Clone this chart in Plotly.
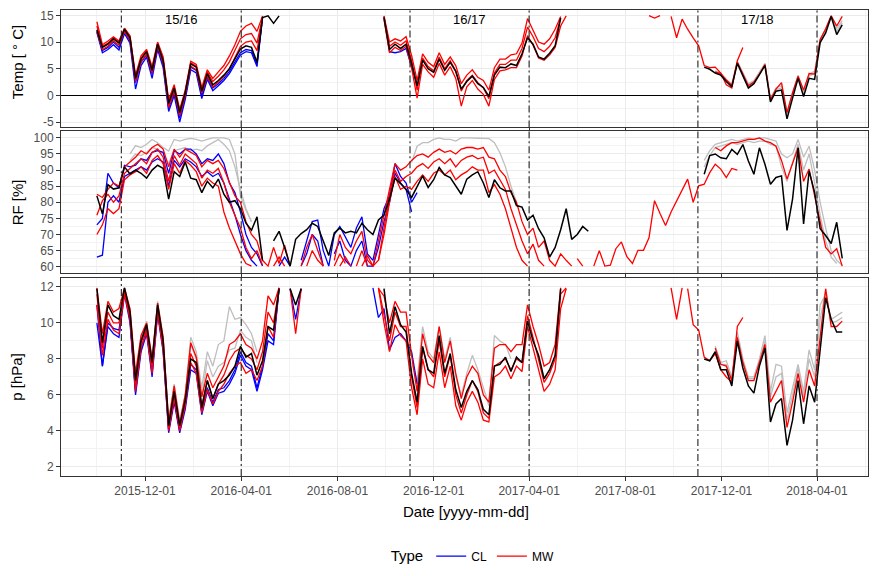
import pandas as pd
import plotly.graph_objects as go

# Weekly samples; every run is (weeks since WEEK0, [values]); None = no reading.
WEEK0 = pd.Timestamp("2015-10-01")

SEASON_BOUNDS = ["2015-11-01", "2016-04-01", "2016-11-01", "2017-04-01", "2017-11-01", "2018-04-01"]
SEASON_LABELS = ["15/16", "16/17", "17/18"]
X_TICKS = ["2015-12-01", "2016-04-01", "2016-08-01", "2016-12-01",
           "2017-04-01", "2017-08-01", "2017-12-01", "2018-04-01"]
X_MINOR = ["2015-10-01", "2016-01-31", "2016-06-01", "2016-10-01", "2017-01-30",
           "2017-06-01", "2017-10-01", "2018-01-30", "2018-06-01"]

# ---------------- Temperature [°C] ----------------
TEMP_REF = [
    (0, [12.3, 9.0, 9.6, 10.6, 9.8, 12.4, 10.8, 3.2, 6.8, 8.2,
         4.7, 9.6, 6.5, -1.5, 1.4, -3.2, 0.5, 5.9, 5.3, 0.8,
         4.1, 2.0, 2.8, 3.8, 5.0, 6.8, 8.7, 9.3, 9.0, 6.2,
         14.6, 14.9, 13.5, 14.9]),
    (52, [14.6, 8.6, 9.6, 8.8, 9.6, 6.0, 1.8, 6.6,
          5.0, 4.3, 6.8, 4.7, 6.2, 4.5, 1.2, 2.6, 3.6, 2.2,
          1.5, -0.2, 3.8, 5.3, 5.2, 5.9, 5.6, 7.8, 10.8, 9.6,
          7.2, 6.8, 7.9, 9.3, 14.5]),
    (110, [5.3, 4.9, 4.2, 3.8, 2.6, 1.6, 6.0, 3.8, 1.4, 2.2,
           3.8, 5.6, -1.2, 0.8, 1.0, -4.4, -0.5, 3.2, -0.2, 3.2,
           3.0, 9.9, 11.7, 14.8, 11.4, 13.2]),
]
TEMP_GRAY_A = [(112, [4.6, 4.2, 3.0, 2.2, 6.4, 4.4, 2.2, 2.8, 4.4, 6.0,
                      -0.6, 1.4, 1.8, -3.4, 0.4, 3.8, 0.8, 4.0, 4.5, 10.4,
                      12.4, 14.9, 12.6, 14.0])]
TEMP_GRAY_B = [(112, [4.4, 4.0, 2.8, 2.0, 6.2, 4.2, 2.0, 2.6, 4.2, 5.9,
                      -0.9, 1.1, 1.4, -3.8, 0.0, 3.5, 0.4, 3.6, 4.2, 10.2,
                      12.2, 14.8, 12.0, 13.6])]
TEMP_CL_A = [
    (0, [12.0, 8.4, 9.0, 10.0, 9.0, 12.0, 10.2, 2.4, 6.2, 7.6,
         4.0, 9.0, 5.8, -2.4, 0.6, -4.2, -0.2, 5.3, 4.7, 0.0,
         3.4, 1.4, 2.2, 3.2, 4.5, 6.2, 8.0, 8.6, 8.4, 5.8,
         14.6]),
    (52, [14.6, 8.2, 8.0, 8.2, 8.8, 5.2, 2.0]),
]
TEMP_CL_B = [
    (0, [11.8, 8.0, 8.6, 9.5, 8.5, 11.6, 9.8, 1.2, 5.6, 7.2,
         3.2, 8.6, 5.2, -3.0, 0.0, -5.0, -0.8, 4.8, 4.2, -0.6,
         3.0, 0.9, 1.8, 2.8, 4.1, 5.8, 7.6, 8.2, 8.0, 5.4,
         14.4]),
]
TEMP_MW_A = [
    (0, [13.8, 9.5, 10.2, 11.0, 10.2, 12.6, 11.2, 3.8, 7.4, 8.6,
         5.4, 10.0, 7.2, -0.8, 2.0, -2.6, 1.0, 6.4, 5.8, 1.5,
         4.8, 3.2, 4.4, 5.6, 7.4, 9.5, 12.0, 13.0, 13.5, 12.0,
         14.9]),
    (52, [14.9, 10.0, 10.6, 10.2, 11.0, 7.5, 2.8, 7.8,
          6.2, 5.4, 8.0, 5.8, 7.2, 5.6, 2.2, 3.8, 4.8, 3.4,
          2.8, 1.0, 5.2, 6.8, 6.8, 7.6, 7.8, 9.8, 14.4, 12.2,
          10.0, 9.6, 10.6, 12.4, 14.8]),
    (112, [4.4, 4.1, 2.9, 1.9, 6.2, 4.1, 1.8, 2.5, 4.0, 5.8,
           -0.8, 1.2, 2.4, -3.2, 0.5, 3.6, 1.0, 4.1, 4.0, 10.5,
           12.5, 14.9, 13.0, 14.8]),
]
TEMP_MW_B = [
    (0, [13.0, 9.2, 9.8, 10.8, 10.0, 12.5, 11.0, 3.3, 7.0, 8.4,
         5.0, 9.8, 6.8, -1.3, 1.6, -3.0, 0.7, 6.1, 5.5, 1.0,
         4.4, 2.6, 3.6, 4.8, 6.3, 8.4, 10.6, 11.4, 11.6, 9.8,
         14.7]),
    (52, [14.8, 9.2, 10.0, 9.4, 10.2, 6.6, 1.0, 7.0,
          5.4, 4.6, 7.2, 5.0, 6.5, 4.6, 0.8, 2.8, 3.8, 2.4,
          1.4, -0.6, 4.2, 5.8, 5.8, 6.6, 6.6, 8.8, 12.8, 11.0,
          8.8, 8.2, 9.2, 10.8, 14.5]),
]
TEMP_MW_C = [
    (0, [12.0, 8.6, 9.2, 10.2, 9.4, 12.0, 10.4, 2.6, 6.3, 7.8,
         4.2, 9.2, 6.0, -2.2, 0.8, -3.8, 0.0, 5.5, 4.8, 0.4,
         3.6, 1.6, 2.5, 3.6, 5.0, 7.0, 9.2, 10.0, 10.2, 8.4,
         14.5]),
    (52, [14.2, 8.0, 9.0, 8.4, 9.2, 5.2, -0.5, 5.8,
          4.4, 3.4, 6.0, 3.8, 5.4, 3.2, -2.0, 1.6, 2.8, 1.2,
          0.2, -2.0, 3.0, 4.6, 4.8, 5.2, 5.2, 7.4, 11.2, 9.4,
          7.0, 6.6, 7.6, 9.0, 13.0, 14.9]),
]
TEMP_MW_D = [
    (100, [14.95, 14.5, 14.95]),
    (104, [14.8, 10.8, 14.3, 12.4, 10.8, 9.3, 5.6, 5.2, 5.3, 4.2,
           2.0, 1.4, 6.5, 9.0]),
]

# ---------------- Relative humidity RF [%] ----------------
RF_REF = [
    (0, [82.0, 76.4, 85.5, 84.1, 84.5, 91.0, 88.8, 90.0, 89.0, 87.5,
         90.0, 91.5, 90.5, 81.0, 89.5, 88.0, 92.5, 87.5, 87.0, 83.0,
         86.5, 84.5, 87.2, 82.5, 80.0, 80.5, 78.0, 73.5, 71.3, 75.5,
         62.0, None, 68.0, 71.0, 66.0, 60.2, 68.5, 70.3, 71.5, 73.5,
         72.5, 68.0, 63.5, 70.5, 72.0, 70.5, 71.0, 70.5, 73.5, 71.5,
         70.0, 74.5, 76.0, 81.0, 87.5, 85.8, 84.0, 81.5, 85.0, 88.2,
         84.6, 87.0, 90.8, 88.5, 87.7, 85.0, 82.5, 87.2, 88.5, 89.5,
         86.0, 81.5, 87.0, 84.5, 83.5, 83.5, 79.0, 78.5, 74.5, 76.0,
         71.8, 69.0, 63.0, 66.0, 71.5, 78.0, 68.5, 70.0, 72.5, 71.0]),
    (110, [88.7, 94.5, 95.0, 93.8, 93.5, 96.4, 94.9, 97.9, 92.8, 88.7,
           96.9, 91.8, 85.6, 87.7, 88.2, 71.3, 81.0, 96.9, 73.3, 89.7,
           83.1, 71.8, 69.7, 67.2, 73.8, 62.6]),
]
RF_GRAY_A = [
    (6, [95.0, 97.6, 97.0, 98.0, 99.5, 98.5, 97.0, 95.9, 99.5, 99.0,
         99.5, 99.8, 99.5, 99.0, 99.5, 100.0, 100.0, 100.0, 99.5, 95.0,
         82.0, 77.5, 74.0]),
    (57, [92.3, 97.4, 98.5, 98.5, 99.5, 100.0, 99.5, 99.5, 99.0, 100.0,
          100.0, 100.0, 100.0, 100.0, 99.8, 98.5, 95.4, 91.0, 85.0, 80.0]),
    (110, [93.0, 96.0, 98.0, 98.5, 99.0, 99.5, 99.0, 99.5, 100.0, 99.5,
           100.0, 100.0, 99.5, 99.0, 95.0, 93.8, 95.0, 99.5, 94.0, 97.4,
           90.0, 80.0, 72.0, 65.0, 62.0, 60.5]),
]
RF_GRAY_B = [
    (6, [93.0, 95.0, 94.5, 95.5, 97.0, 96.5, 95.0, 92.0, 96.0, 96.5,
         97.0, 96.0, 96.5, 96.0, 97.5, 98.5, 99.5, 98.0, 96.0, 91.0,
         84.0, 78.0, 74.0]),
    (110, [91.0, 94.5, 97.0, 97.5, 98.0, 98.5, 98.0, 98.5, 99.0, 98.5,
           99.0, 99.0, 98.0, 97.5, 91.0, 86.5, 92.0, 98.0, 90.0, 95.0,
           86.0, 76.0, 68.0, 63.0, 61.0]),
]
RF_CL_A = [
    (0, [73.0, 75.0, 89.0, 86.0, 84.5, 91.5, 91.0, 91.5, 93.5, 93.0,
         95.5, 96.0, 95.5, 89.0, 96.0, 95.0, 96.5, 96.5, 95.0, 92.0,
         93.5, 93.0, 95.0, 92.0, 86.0, 83.0, 77.0, 70.0, 66.0, 64.0,
         60.2, None, None, 60.2, 63.0, 60.2, None, 62.0, 68.0, 74.0,
         74.5, 65.0, 60.2, 70.0, 72.5, 69.0, 66.0, 72.0, 75.5, 64.0,
         62.0, 70.0, 78.0, 82.0, 92.0, 88.0, 86.0, 80.0, 83.0]),
]
RF_CL_B = [
    (0, [63.0, 63.6, 80.0, 82.0, 80.0, 88.0, 89.0, 90.0, 91.0, 90.0,
         92.5, 93.5, 92.5, 85.0, 93.0, 91.0, 93.5, 92.5, 91.0, 88.0,
         89.5, 88.0, 89.0, 86.0, 81.0, 76.0, 70.0, 65.0, 62.0, 60.2]),
    (37, [60.2, 64.0, 70.0, 68.0, 60.2, None, 64.0, 68.0, 62.0, 60.2,
          65.0, 68.0, 60.2, 60.2, 66.0, 74.0, 80.0, 89.0, 86.0, 84.0,
          77.0]),
]
RF_MW_A = [
    (0, [82.5, 81.5, 84.0, 86.0, 85.0, 91.0, 92.5, 94.0, 96.0, 95.0,
         97.0, 98.0, 96.5, 91.0, 96.5, 94.0, 96.5, 95.5, 94.5, 91.0,
         93.0, 92.0, 93.0, 90.5, 86.0, 82.0, 80.0, 74.0, 70.0, 68.0,
         62.0, 60.2, 66.0, 61.0, 66.7, 60.2, None, 60.2, 66.0, 70.0,
         65.0, 60.2, None, 62.0, 70.0, 66.0, 64.0, 68.0, 71.0, 62.0,
         60.2, 68.0, 76.0, 84.0, 92.0, 90.0, 91.0, 93.0, 94.5, 95.0,
         94.0, 95.5, 96.5, 95.5, 96.0, 95.0, 96.5, 97.0, 97.0, 96.5,
         97.0, 94.0, 93.5, 90.0, 88.0, 83.0, 80.0, 74.0, 70.0, 72.0,
         66.0, 68.0, 62.0, 60.2, 64.0, 62.0, 60.2]),
    (112, [97.0, 96.0, 97.5, 98.5, 98.5, 99.0, 99.5, 99.5, 100.0, 99.0,
           98.5, 97.4, 93.0, 87.2, 92.0, 96.9, 86.5, 90.3, 82.0, 73.8,
           66.0, 64.0, 65.6, 60.2]),
]
RF_MW_B = [
    (0, [76.0, 80.5, 82.5, 80.0, 82.0, 89.0, 90.5, 92.0, 93.5, 92.0,
         95.5, 96.5, 94.0, 86.5, 94.5, 91.5, 95.0, 93.5, 92.0, 87.5,
         90.0, 89.0, 90.5, 86.0, 80.0, 76.0, 72.0, 66.0, 62.5, 65.0,
         60.5]),
    (38, [60.2, 65.0, 62.0, 60.2, None, 60.2, 64.0, 61.0, None, 60.2,
          65.0, 60.2, None, 62.0, 72.0, 82.0, 90.0, 86.5, 88.0, 89.0,
          91.0, 92.0, 90.5, 92.5, 93.5, 92.0, 93.5, 91.0, 93.0, 94.0,
          94.5, 93.5, 94.0, 89.0, 90.0, 87.0, 84.0, 78.0, 73.0, 68.0,
          64.0, 67.0, 62.0, 60.2]),
]
RF_MW_C = [
    (0, [70.0, 73.0, 78.0, 76.5, 78.0, 87.0, 88.5, 89.5, 91.0, 89.0,
         93.0, 94.5, 92.0, 84.0, 92.0, 89.0, 93.0, 91.5, 89.5, 85.0,
         87.5, 86.0, 85.0, 77.0, 72.0, 68.0, 64.0, 61.0, 60.2]),
    (32, [60.2, 63.0, 60.2]),
    (44, [60.2, 63.0, 60.2, None, 60.2, 63.5, 60.2, 62.0, 70.0, 80.0,
          88.0, 84.0, 85.0, 84.0, 86.5, 88.5, 86.5, 89.0, 90.0, 88.5,
          90.0, 87.0, 88.5, 89.5, 91.0, 90.0, 90.0, 83.0, 85.5, 82.5,
          78.0, 72.0, 66.0, 62.0, 60.2]),
]
RF_MW_D = [
    (87, [62.5, 60.2]),
    (90, [60.2, 65.0, 60.2, 60.5, 65.6, 67.7, 63.1, 61.0, 65.1, 65.1,
          69.0, 80.5, 76.5, 72.8, 77.0, 80.5, 83.6, 87.2, 80.0, 85.1,
          85.6, 89.2, 91.8, 90.3, 87.7, 90.5, 90.0]),
]

# ---------------- Vapour pressure p [hPa] ----------------
P_REF = [
    (0, [11.9, 8.9, 11.0, 10.4, 10.2, 11.95, 10.6, 6.8, 9.0, 9.9,
         7.8, 11.0, 9.0, 4.3, 6.2, 4.3, 5.7, 8.0, 7.8, 5.3,
         6.8, 5.8, 6.6, 6.8, 7.1, 7.6, 8.7, 8.1, 8.3, 7.1,
         7.9, 9.8, 9.6, 11.9]),
    (35, [11.9, 11.0, 11.9]),
    (52, [11.9, 9.4, 10.9, 9.9, 9.5, 7.2, 5.6, 8.7,
          7.4, 7.2, 9.3, 7.2, 8.3, 6.3, 5.3, 6.2, 6.8, 6.3,
          5.2, 4.9, 7.6, 7.7, 8.1, 7.3, 8.1, 7.8, 10.1, 9.0,
          8.2, 6.9, 7.4, 8.2, 11.9]),
    (110, [8.0, 7.9, 8.4, 7.4, 7.4, 6.5, 9.0, 7.5, 6.5, 6.1,
           7.6, 8.6, 4.5, 5.5, 5.8, 3.2, 4.6, 6.8, 4.4, 6.5,
           5.6, 8.6, 11.4, 10.2, 9.5, 9.5]),
]
P_GRAY_A = [
    (6, [10.8, 7.0, 9.2, 10.1, 8.0, 11.2, 9.2, 4.6, 6.6, 4.6,
         6.0, 9.2, 8.4, 6.4, 8.4, 7.6, 8.8, 9.0, 10.9, 10.2,
         10.3, 9.9, 9.4, 8.4]),
    (57, [7.8, 6.8, 9.8, 8.4, 8.0, 9.8, 8.0, 9.2, 7.0, 6.0,
          7.2, 8.2, 7.4, 6.4, 5.4, 9.3, 9.0, 8.8, 8.0]),
    (112, [8.7, 7.8, 7.9, 7.0, 9.5, 8.0, 7.0, 7.0, 8.0, 9.3,
           6.2, 7.7, 7.6, 5.0, 6.4, 7.7, 6.2, 8.5, 7.4, 11.0,
           11.6, 10.2, 10.4, 10.6]),
]
P_GRAY_B = [
    (6, [10.7, 6.9, 9.1, 10.0, 7.9, 11.1, 9.1, 4.5, 6.4, 4.5,
         5.9, 8.8, 8.0, 5.9, 7.9, 7.0, 7.6, 7.8, 8.5, 8.6,
         9.6, 9.2, 9.0, 7.8]),
    (112, [8.6, 7.7, 7.7, 6.9, 9.3, 7.9, 6.9, 6.9, 7.9, 9.0,
           5.9, 7.0, 7.2, 4.6, 6.0, 7.5, 5.9, 8.0, 7.0, 10.2,
           11.8, 10.0, 10.1, 10.3]),
]
P_CL_A = [
    (0, [11.0, 7.6, 10.0, 9.7, 9.6, 11.8, 10.2, 6.2, 8.6, 9.6,
         7.2, 10.7, 8.6, 4.0, 5.8, 4.0, 5.4, 7.7, 7.4, 5.1,
         6.4, 5.6, 6.3, 6.4, 6.8, 7.4, 8.4, 7.8, 7.6, 6.4,
         7.6, 9.4, 9.0, 11.9]),
    (35, [11.9, 10.2, 11.9]),
    (50, [11.95, 10.3, 10.8, 8.5, 9.2, 9.4, 9.0, 8.4, 6.6]),
]
P_CL_B = [
    (0, [10.0, 7.6, 9.8, 9.4, 9.2, 11.6, 10.0, 6.0, 8.4, 9.4,
         7.0, 10.5, 8.4, 3.9, 5.6, 3.9, 5.2, 7.4, 7.2, 4.9,
         6.2, 5.4, 6.1, 6.2, 6.6, 7.2, 8.2, 7.6, 7.4, 6.2,
         7.4, 9.0, 8.8, 11.9]),
]
P_MW_A = [
    (0, [11.95, 9.4, 11.2, 10.6, 10.8, 11.95, 10.8, 7.2, 9.3, 10.0,
         8.0, 11.1, 9.2, 4.5, 6.5, 4.4, 6.0, 8.9, 8.1, 5.9,
         7.2, 6.4, 7.0, 7.6, 8.8, 9.0, 9.4, 8.8, 8.6, 8.0,
         9.0, 11.5, 11.0, 11.95]),
    (35, [11.9, 9.4, 11.9]),
    (51, [11.9, 11.5, 10.0, 11.2, 10.6, 10.6, 8.2, 6.2, 9.4,
          8.2, 7.8, 9.8, 7.8, 9.0, 7.2, 5.8, 7.0, 7.6, 7.2,
          6.0, 5.6, 8.6, 8.8, 8.8, 8.4, 8.8, 8.8, 11.0, 9.8,
          8.8, 7.6, 7.8, 8.8, 11.95]),
    (112, [8.6, 7.7, 7.6, 6.8, 9.2, 7.8, 6.8, 6.8, 7.8, 8.8,
           5.6, 6.2, 6.8, 4.2, 5.6, 7.2, 5.6, 7.4, 6.5, 9.2,
           11.9, 9.8, 9.8, 10.1]),
]
P_MW_B = [
    (0, [11.6, 8.6, 10.6, 10.0, 10.0, 11.8, 10.4, 6.6, 8.9, 9.7,
         7.6, 10.9, 8.8, 4.2, 6.0, 4.2, 5.6, 8.3, 7.6, 5.4,
         6.8, 5.8, 6.6, 7.1, 7.9, 8.4, 8.6, 8.2, 8.0, 7.4,
         8.4, 10.6, 10.0, 11.95]),
    (51, [11.95, 10.4, 9.0, 10.6, 9.8, 9.8, 7.0, 5.3, 8.6,
          7.4, 7.0, 9.0, 7.0, 8.2, 6.0, 5.0, 6.0, 6.8, 6.2,
          5.0, 4.7, 7.6, 7.8, 8.0, 7.4, 8.0, 7.8, 10.4, 9.2,
          8.0, 6.7, 7.2, 8.0, 11.6, 11.95]),
]
P_MW_C = [
    (0, [11.0, 8.2, 10.2, 9.6, 9.4, 11.6, 10.2, 6.2, 8.6, 9.5,
         7.2, 10.6, 8.5, 4.0, 5.8, 4.0, 5.4, 7.8, 7.2, 5.0,
         6.3, 5.5, 6.2, 6.6, 7.2, 7.6, 7.8, 7.2, 7.4, 6.8,
         7.6, 9.8, 9.2, 11.9]),
    (51, [11.95, 10.0, 8.4, 9.9, 9.3, 9.0, 6.4, 4.9, 8.0,
          6.6, 6.4, 8.4, 6.4, 7.6, 5.4, 4.6, 5.6, 6.2, 5.6,
          4.6, 4.5, 7.0, 7.2, 7.6, 6.9, 7.6, 7.3, 9.8, 8.6,
          7.4, 6.2, 6.6, 7.4, 10.8, 11.9]),
]
P_MW_D = [
    (104, [11.95, 10.2, 11.95]),
    (107, [11.9, 9.9, 9.6, 8.1, 7.9, 8.3, 7.4, 7.0, 6.7, 9.8, 10.3]),
]

PANELS = [
    dict(ref=TEMP_REF, gray=[TEMP_GRAY_A, TEMP_GRAY_B], cl=[TEMP_CL_A, TEMP_CL_B],
         mw=[TEMP_MW_A, TEMP_MW_B, TEMP_MW_C, TEMP_MW_D]),
    dict(ref=RF_REF, gray=[RF_GRAY_A, RF_GRAY_B], cl=[RF_CL_A, RF_CL_B],
         mw=[RF_MW_A, RF_MW_B, RF_MW_C, RF_MW_D]),
    dict(ref=P_REF, gray=[P_GRAY_A, P_GRAY_B], cl=[P_CL_A, P_CL_B],
         mw=[P_MW_A, P_MW_B, P_MW_C, P_MW_D]),
]
Y_TITLES = ["Temp [ \u00b0 C]", "RF [%]", "p [hPa]"]


def weekly(runs):
    xs, ys = [], []
    for start, vals in runs:
        for i, v in enumerate(vals):
            xs.append((WEEK0 + pd.Timedelta(weeks=start + i)).strftime("%Y-%m-%d"))
            ys.append(v)
        xs.append(None)
        ys.append(None)
    return xs, ys


FONT = "Liberation Sans, Arial, Helvetica, sans-serif"
TICK_COL = "#4D4D4D"
AXIS_COL = "#333333"
GRID_COL = "#EBEBEB"
GRID_MINOR = "#F3F3F3"
STYLE = {"gray": ("#BEBEBE", 1.3), "cl": ("#0000FF", 1.3), "mw": ("#FF0000", 1.3), "ref": ("#000000", 1.5)}
LEGEND_NAME = {"cl": "CL", "mw": "MW"}

fig = go.Figure()
shown = set()
for i, panel in enumerate(PANELS):
    xa = "x" if i == 0 else f"x{i + 1}"
    ya = "y" if i == 0 else f"y{i + 1}"
    for group in ("gray", "cl", "mw", "ref"):
        runs_list = panel[group] if group != "ref" else [panel[group]]
        color, width = STYLE[group]
        for runs in runs_list:
            xs, ys = weekly(runs)
            show = group in LEGEND_NAME and group not in shown
            if show:
                shown.add(group)
            fig.add_trace(go.Scatter(
                x=xs, y=ys, mode="lines", xaxis=xa, yaxis=ya,
                line=dict(color=color, width=width),
                name=LEGEND_NAME.get(group, group), legendgroup=group,
                showlegend=show, connectgaps=False, hoverinfo="skip"))

X_RANGE = ["2015-08-16 12:00", "2018-06-04 16:00"]
DOMAINS = [[0.7479, 1.0], [0.4352, 0.7395], [0.0, 0.4251]]
Y_SPECS = [
    dict(range=[-6, 16], tickvals=[-5, 0, 5, 10, 15], ticktext=["-5", "0", "5", "10", "15"],
         minor=[-2.5, 2.5, 7.5, 12.5]),
    dict(range=[58, 102], tickvals=list(range(60, 101, 5)),
         ticktext=[str(v) for v in range(60, 101, 5)],
         minor=[62.5 + 5 * j for j in range(8)]),
    dict(range=[1.5, 12.5], tickvals=[2, 4, 6, 8, 10, 12], ticktext=["2", "4", "6", "8", "10", "12"],
         minor=[3, 5, 7, 9, 11]),
]

layout = dict(
    width=872, height=576,
    margin=dict(l=61, r=4, t=10, b=92),
    paper_bgcolor="white", plot_bgcolor="white",
    font=dict(family=FONT, color="black"),
    showlegend=True,
    legend=dict(orientation="h", x=0.512, xanchor="center", y=-0.173, yanchor="middle",
                title=dict(text="Type", font=dict(size=15, color="black"), side="left"),
                font=dict(size=12, color="black"), itemwidth=30,
                bgcolor="rgba(0,0,0,0)"),
)
for i in range(3):
    sx = "" if i == 0 else str(i + 1)
    layout[f"xaxis{sx}"] = dict(
        type="date", range=X_RANGE, anchor=f"y{sx}", domain=[0, 1],
        tickmode="array", tickvals=X_TICKS, ticktext=X_TICKS,
        showticklabels=(i == 2), ticks="outside", ticklen=4, tickwidth=1, tickcolor=AXIS_COL,
        tickfont=dict(size=12, color=TICK_COL),
        showgrid=True, gridcolor=GRID_COL, gridwidth=1.1,
        minor=dict(tickmode="array", tickvals=X_MINOR, showgrid=True, gridcolor=GRID_MINOR,
                   gridwidth=0.6, ticks=""),
        showline=True, mirror=True, linecolor=AXIS_COL, linewidth=1,
        zeroline=False, matches=None if i == 2 else "x3",
    )
    spec = Y_SPECS[i]
    layout[f"yaxis{sx}"] = dict(
        range=spec["range"], domain=DOMAINS[i], anchor=f"x{sx}",
        tickmode="array", tickvals=spec["tickvals"], ticktext=spec["ticktext"],
        ticks="outside", ticklen=4, tickwidth=1, tickcolor=AXIS_COL,
        tickfont=dict(size=12, color=TICK_COL),
        showgrid=True, gridcolor=GRID_COL, gridwidth=1.1,
        minor=dict(tickmode="array", tickvals=spec["minor"], showgrid=True,
                   gridcolor=GRID_MINOR, gridwidth=0.6, ticks=""),
        showline=True, mirror=True, linecolor=AXIS_COL, linewidth=1,
        zeroline=(i == 0), zerolinecolor="black", zerolinewidth=1.3,
    )

shapes = []
for i in range(3):
    sx = "" if i == 0 else str(i + 1)
    for d in SEASON_BOUNDS:
        shapes.append(dict(type="line", xref=f"x{sx}", yref=f"y{sx} domain",
                           x0=d, x1=d, y0=0, y1=1, layer="above",
                           line=dict(color="#222222", width=1.1, dash="7px,3px,2px,3px")))
layout["shapes"] = shapes

annotations = []
for j, lab in enumerate(SEASON_LABELS):
    a = pd.Timestamp(SEASON_BOUNDS[2 * j])
    b = pd.Timestamp(SEASON_BOUNDS[2 * j + 1])
    mid = (a + (b - a) / 2).strftime("%Y-%m-%d")
    annotations.append(dict(x=mid, y=14.3, xref="x", yref="y", text=lab, showarrow=False,
                            font=dict(size=13, color="black")))
for title, yc in zip(Y_TITLES, [0.888, 0.5873, 0.2131]):
    annotations.append(dict(x=-0.0545, y=yc, xref="paper", yref="paper", text=title,
                            textangle=-90, showarrow=False, xanchor="center", yanchor="middle",
                            font=dict(size=15, color="black")))
annotations.append(dict(x=0.502, y=-0.0759, xref="paper", yref="paper", text="Date [yyyy-mm-dd]",
                        showarrow=False, xanchor="center", yanchor="middle",
                        font=dict(size=15, color="black")))
layout["annotations"] = annotations

fig.update_layout(**layout)
fig.write_html("out.html")
